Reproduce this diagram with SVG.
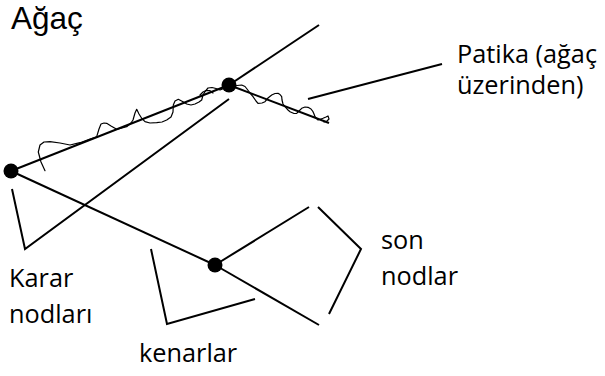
<svg xmlns="http://www.w3.org/2000/svg" width="605" height="376" viewBox="0 0 605 376">
<style>
.e{stroke:#000;stroke-width:2;fill:none;stroke-linecap:butt}
.c{stroke:#000;stroke-width:2;fill:none;stroke-linejoin:miter}
.w{stroke:#000;stroke-width:1.2;fill:none;stroke-linejoin:round;stroke-linecap:round}
.n{fill:#000}
.t{font-family:"Open Sans","Noto Sans",sans-serif;font-size:25.3px;fill:#000}
</style>
<rect width="605" height="376" fill="#fff"/>
<text x="11" y="29" style="font-family:'Liberation Sans',Arial,sans-serif;font-size:31.5px;fill:#000">Ağaç</text>
<g id="connectors">
<line class="e" x1="11" y1="171" x2="229" y2="85"/>
<line class="e" x1="229" y1="85" x2="319" y2="25"/>
<line class="e" x1="229" y1="85" x2="329" y2="123"/>
<line class="e" x1="11" y1="171" x2="215" y2="265"/>
<line class="e" x1="215" y1="265" x2="309" y2="207"/>
<line class="e" x1="215" y1="265" x2="319" y2="325"/>
</g>
<g id="path-squiggle">
<polyline class="w" points="45,170.7 41,162 38.3,152 40,145 44,142 50,141.7 60,143 70,145 80,142.7 90,139 96.7,136.7 99,129 101,124 104,123 106.7,123.3 111,126 116.7,129.3 122,128 126.7,126.7 131,123 133,120 135,113 136.7,109.3 139,114 141.7,118.3 145,121.7 150,123 156.7,122.7 162,122 166.7,120 171,117 173,112 173.3,105 175,101 178.3,99.3 183,101.7 186.7,104 191,105 195,104 199,102 201.7,100 203,95 205,91.7 208,88 212,87.5 216,88.5 220,90 225,88"/>
<polyline class="w" points="200,95 203,92 206,90.5 210,90.7 213,93"/>
<polyline class="w" points="233,86.7 237,85.5 241.7,85 245,86.5 247,89 250,93 253,96.7 256,101 258,103.3 262,103 265,101.7 268,98 271.7,95 275,93.5 278,93.3 280,94.5 281.7,96.7 282,100 283,104 285,106.7 288,110 290,111.7 294,113.5 296.7,113.3 299,111 301.7,108.3 305,107 308,107.3 311,109 313,111.7 314,114 315,116.7 318,120 321,119 323,118.3 326,117 328,116 329,119 327,121 324,122"/>
</g>
<g id="node-root">
<circle class="n" cx="11" cy="171" r="7.5"/>
</g>
<g id="node-top">
<circle class="n" cx="229" cy="85" r="7.5"/>
</g>
<g id="node-mid">
<circle class="n" cx="215" cy="265" r="7.5"/>
</g>
<g id="label-karar">
<polyline class="c" points="229,99 25,249 12,189"/>
<text class="t" x="9" y="287">Karar</text>
<text class="t" x="9" y="323">nodları</text>
</g>
<g id="label-kenarlar">
<polyline class="c" points="151,249 167,324 255,299"/>
<text class="t" x="139" y="362">kenarlar</text>
</g>
<g id="label-son">
<polyline class="c" points="318,207 361,249 329,314"/>
<text class="t" x="381" y="249">son</text>
<text class="t" x="381" y="285">nodlar</text>
</g>
<g id="label-patika">
<line class="e" x1="308" y1="99" x2="442" y2="64"/>
<text class="t" x="457" y="63">Patika (ağaç</text>
<text class="t" x="457" y="94">üzerinden)</text>
</g>
</svg>
